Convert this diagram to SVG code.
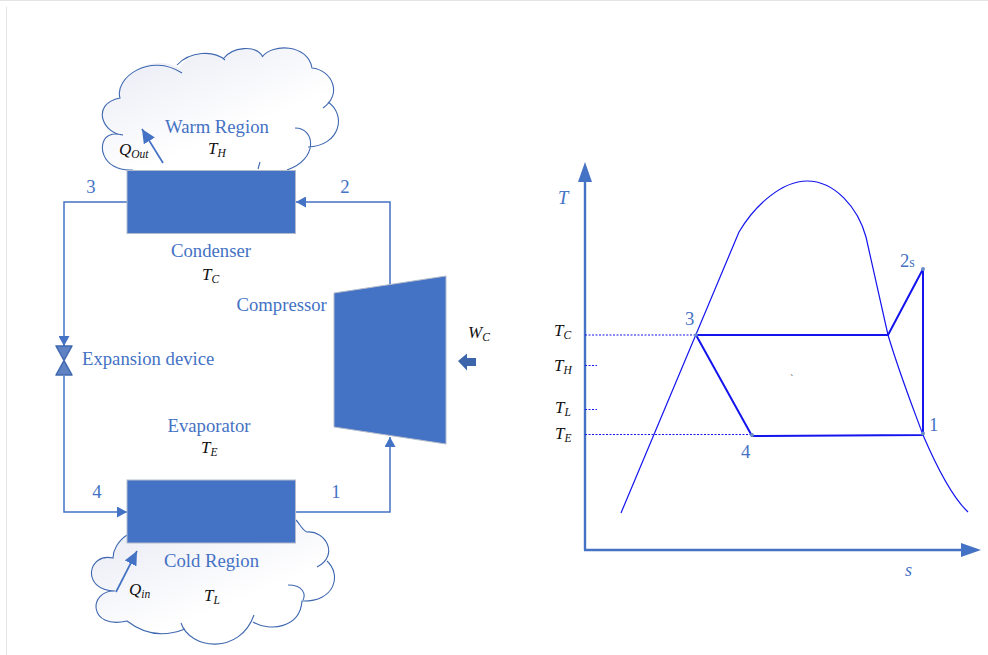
<svg xmlns="http://www.w3.org/2000/svg" width="988" height="655" viewBox="0 0 988 655">
<style>
text{font-family:"Liberation Serif","Times New Roman",serif}
.b{fill:#4472c4;font-size:18.700px}
.k{fill:#111;font-size:17px;font-style:italic}
.sub{font-size:11.500px}
.pipe{fill:none;stroke:#4472c4;stroke-width:1.5}
.block{fill:#4472c4;stroke:#b4bccb;stroke-width:1}
.cloud{fill:url(#cg);stroke:none}
.cl{fill:none;stroke:#3f68b0;stroke-width:1.1}
.c{fill:none;stroke:#1414ee;stroke-width:1.2}
.p{fill:none;stroke:#1414ee;stroke-width:2}
.d{fill:none;stroke:#1414ee;stroke-width:1;stroke-dasharray:2 1.5}
.ax{fill:none;stroke:#4472c4;stroke-width:2.4}
.dot{fill:#6c8fc8}
</style>
<defs>
<linearGradient id="cg" x1="0" y1="0" x2="0.55" y2="0.7"><stop offset="0" stop-color="#e8eaf4"/><stop offset="1" stop-color="#ffffff"/></linearGradient>
<marker id="ah" markerUnits="userSpaceOnUse" markerWidth="11" markerHeight="11" refX="10" refY="5.500" orient="auto"><path d="M0 0L10 5.500L0 11Z" fill="#4472c4"/></marker>
<marker id="ahq" markerUnits="userSpaceOnUse" markerWidth="15" markerHeight="13" refX="14" refY="6.500" orient="auto"><path d="M0 0L14 6.500L0 13Z" fill="#4472c4"/></marker>
</defs>
<path d="M6.500 655V6.500M0 0.500H988" fill="none" stroke="#e4e4e4" stroke-width="1"/>
<g id="warm-region">
<path class="cloud" d="M130 170C100 170 96 140 110 135L116 135C103 134 90 104 120 98C114 78 150 52 179 68C190 51 214 50 224 60C232 47 256 44 263 57C272 43 308 44 312 68C332 70 343 94 326 104C347 115 340 146 308 147C312 157 300 165 287 170Z"/>
<path class="cl" d="M133 170C100 172 96 140 110 135C114 133 118 134 123 135C103 134 90 104 120 98C114 78 150 52 182 73M177 65C190 51 214 50 225 60M223 59C232 47 256 44 263 57M262 57C272 43 308 44 312 68C332 70 343 94 323 108M328 102C347 115 340 146 308 147M295 128C316 128 318 160 287 170M260 162L258 169"/>
</g>
<g id="cold-region">
<path class="cloud" d="M127 535C118 541 113 550 113 558C88 552 80 590 115 591C88 590 88 630 127 621C145 635 165 637 183 627C190 650 240 655 254 617C270 632 300 628 302 601C335 602 342 575 325 562C340 555 325 530 307 532L296 520Z"/>
<path class="cl" d="M127 535C118 541 113 550 113 558C88 552 80 590 115 591C88 590 88 630 127 621C145 635 165 637 185 629M181 623C190 650 240 655 254 615M253 622C270 632 300 628 302 601C335 602 342 575 327 561M317 567C340 555 325 530 307 532C302 530 300 524 296 520M288 585C303 585 306 594 303 600"/>
</g>
<g id="connectors">
<path class="pipe" d="M127 202H64V346" marker-end="url(#ah)"/>
<path class="pipe" d="M64 376V512H127" marker-end="url(#ah)"/>
<path class="pipe" d="M296 512H390V437" marker-end="url(#ah)"/>
<path class="pipe" d="M390 285V202H296" marker-end="url(#ah)"/>
<path d="M163 163L142 129" fill="none" stroke="#4472c4" stroke-width="1.700" marker-end="url(#ahq)"/>
<path d="M116 592L137 551" fill="none" stroke="#4472c4" stroke-width="1.700" marker-end="url(#ahq)"/>
</g>
<g id="condenser"><rect class="block" x="127" y="170.500" width="168.500" height="63"/><text class="b" x="211" y="257" text-anchor="middle">Condenser</text><text class="k" x="202" y="280">T<tspan class="sub" dy="3">C</tspan></text></g>
<g id="evaporator"><rect class="block" x="127" y="480" width="168.500" height="63"/><text class="b" x="209" y="432" text-anchor="middle">Evaporator</text><text class="k" x="201" y="453">T<tspan class="sub" dy="3">E</tspan></text></g>
<g id="compressor"><path class="block" d="M334 293L446 276V444L334 427Z"/><text class="b" x="236.500" y="311">Compressor</text></g>
<g id="expansion"><path d="M56 346H72L56 375H72Z" fill="#5f83c2" stroke="#3f68b0" stroke-width="1.500" stroke-linejoin="round"/><text class="b" x="82" y="365">Expansion device</text></g>
<g id="labels">
<text class="b" x="91" y="193" text-anchor="middle">3</text>
<text class="b" x="345" y="193" text-anchor="middle">2</text>
<text class="b" x="97" y="498" text-anchor="middle">4</text>
<text class="b" x="336" y="498" text-anchor="middle">1</text>
<text class="b" x="165" y="133">Warm Region</text>
<text class="k" x="208" y="154">T<tspan class="sub" dy="3">H</tspan></text>
<text class="k" x="119" y="155">Q<tspan class="sub" dy="3">Out</tspan></text>
<text class="b" x="164" y="567">Cold Region</text>
<text class="k" x="204" y="601">T<tspan class="sub" dy="3">L</tspan></text>
<text class="k" x="129" y="595">Q<tspan class="sub" dy="3">in</tspan></text>
<text class="k" x="468" y="338">W<tspan class="sub" dy="3">C</tspan></text>
</g>
<g id="work-arrow"><path d="M458 361L467 353.500V358H476V366H467V370.500Z" fill="#3d65ab"/></g>
<g id="ts-chart">
<path class="ax" d="M585 550V178"/><path d="M585 162L592 182H578Z" fill="#4472c4"/>
<path class="ax" d="M584 550H965"/><path d="M981 550L961 543V557Z" fill="#4472c4"/>
<path class="c" d="M621 513L739 232C755 205 782 181 807 181C835 181 858 208 866 237L888 335C900 375 912 405 923 435C938 470 952 497 968 512"/>
<path class="p" d="M696 335H888L923 269V435L752 436L696 335"/>
<path class="d" d="M585 335H696M585 365.500H597M585 409.500H597M585 434.500H752"/>
<circle class="dot" cx="696" cy="335" r="1.700"/><circle class="dot" cx="752" cy="435" r="2"/><circle class="dot" cx="923" cy="269" r="2"/><circle class="dot" cx="923" cy="433.500" r="2"/>
<text class="b" x="685" y="325">3</text><text class="b" x="741" y="458">4</text><text class="b" x="929" y="431">1</text>
<text class="b" x="900" y="267">2<tspan font-size="14">s</tspan></text>
<text class="k" x="558" y="204" style="fill:#4472c4;font-size:18.700px">T</text>
<text class="k" x="905" y="576" style="fill:#4472c4;font-size:18px">s</text>
<text class="k" x="554" y="336">T<tspan class="sub" dy="3">C</tspan></text>
<text class="k" x="554" y="371">T<tspan class="sub" dy="3">H</tspan></text>
<text class="k" x="555" y="413">T<tspan class="sub" dy="3">L</tspan></text>
<text class="k" x="555" y="439">T<tspan class="sub" dy="3">E</tspan></text>
<text x="790" y="382" style="font-size:10px;fill:#444">`</text>
</g>
</svg>
